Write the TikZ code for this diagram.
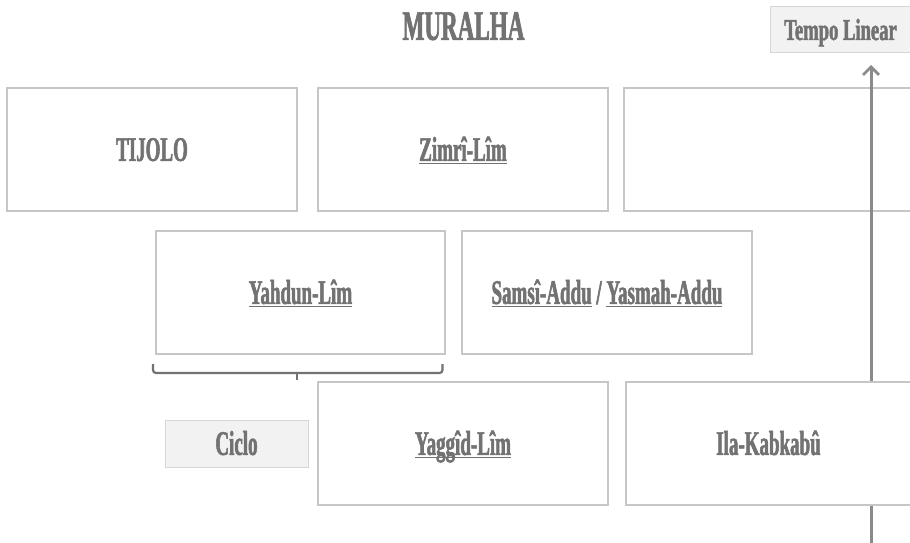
\documentclass[tikz,border=0pt]{standalone}
\usepackage{fontspec}
\setmainfont[FakeStretch=0.55,FakeBold=1.6,UprightFont={* Bold},BoldFont={* Bold}]{Liberation Serif}
\newfontfamily\tempofont[FakeStretch=0.61,FakeBold=1.6,UprightFont={* Bold}]{Liberation Serif}
\usetikzlibrary{arrows.meta}
\definecolor{txt}{HTML}{727272}
\definecolor{bord}{HTML}{C6C6C6}
\definecolor{tagfill}{HTML}{F2F2F2}
\definecolor{tagbord}{HTML}{D6D6D6}
\definecolor{arr}{HTML}{8A8A8A}
\newcommand{\myul}[1]{\setbox0\hbox{#1}\rlap{\rule[-2.5pt]{\wd0}{0.7pt}}\box0\relax}
\tikzset{
  boxtext/.style={font=\fontsize{34.5}{36}\selectfont, text=txt, text height=22.8pt, text depth=0pt},
  bigbox/.style={boxtext, draw=bord, line width=1.1pt, fill=white, minimum height=123pt, inner sep=0pt},
  tag/.style={draw=tagbord, line width=1pt, fill=tagfill, inner sep=0pt},
  bracestyle/.style={draw=txt, line width=2.2pt},
}
\begin{document}
\begin{tikzpicture}[x=1pt,y=-1pt]
\useasboundingbox[fill=white] (0,0) rectangle (910,543);
% title
\node[font=\fontsize{42}{44}\selectfont, text=txt, text height=27.8pt, text depth=0pt, inner sep=0pt] (title) at (463.5,26) {MURALHA};
% tempo linear tag
\node[tag, boxtext, font=\fontsize{30.5}{32}\tempofont, text height=20pt, minimum width=141pt, minimum height=46pt] (tempo) at (840.5,30) {Tempo Linear};
% row 1
\node[bigbox, minimum width=290pt] (tijolo) at (152,149.5) {TIJOLO};
\node[bigbox, minimum width=290pt] (zimri) at (463,149.5) {\myul{Zimrî-Lîm}};
\node[bigbox, minimum width=287pt] (empty) at (767.5,149.5) {};
% row 2
\node[bigbox, minimum width=289pt] (yahdun) at (300.5,292.5) {\myul{Yahdun-Lîm}};
\node[bigbox, minimum width=290pt] (samsi) at (607,292.5) {\myul{Samsî-Addu} / \myul{Yasmah-Addu}};
% time arrow
\coordinate (arrstart) at (871,548);
\coordinate (arrend) at (871,65);
\draw[draw=arr, line width=3pt, -{Straight Barb[length=8pt,width=16pt,line width=2.8pt]}] (arrstart) -- (arrend);
% brace
\draw[bracestyle, rounded corners=3pt] (153,364) |- (442.5,373) -- (442.5,364);
\draw[bracestyle] (297,373) -- (297,380);
% row 3
\node[tag, boxtext, minimum width=143pt, minimum height=47pt] (ciclo) at (236.5,443.5) {Ciclo};
\node[bigbox, minimum width=290pt] (yaggid) at (463,443.5) {\myul{Yaggîd-Lîm}};
\node[bigbox, minimum width=285pt] (ila) at (768.5,443.5) {Ila-Kabkabû};
\end{tikzpicture}
\end{document}
